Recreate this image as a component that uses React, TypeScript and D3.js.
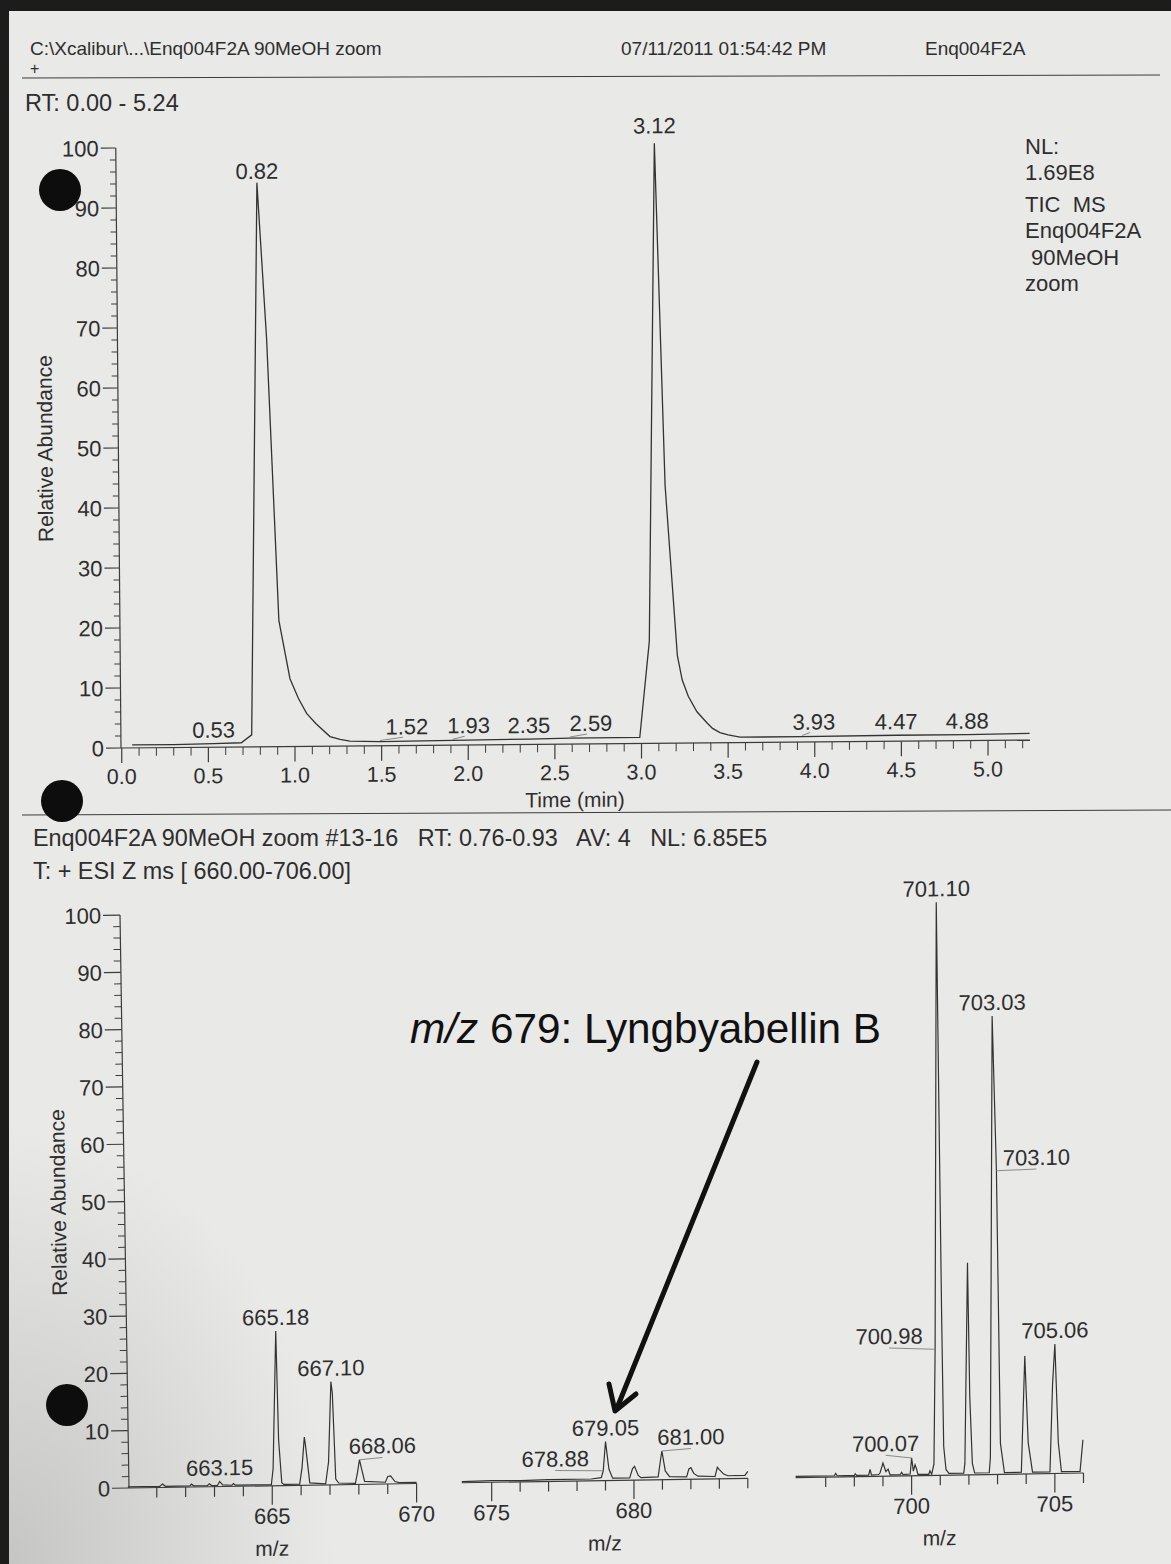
import * as d3 from 'd3';

// ---------- data ----------

// TIC chromatogram, time (min) vs relative abundance
const ticTrace: [number, number][] = [
  [0.06, 0.5], [0.3, 0.5], [0.53, 0.6], [0.69, 0.7], [0.75, 2.0], [0.78, 94],
  [0.836, 68], [0.907, 21], [0.971, 11.3], [1.02, 8], [1.067, 5.5], [1.12, 3.8],
  [1.202, 1.6], [1.26, 1.1], [1.317, 0.8], [1.49, 0.7], [1.91, 0.8], [2.35, 0.9],
  [2.587, 1.0], [2.99, 1.0], [3.045, 17], [3.074, 100], [3.136, 43], [3.207, 14.6],
  [3.235, 10.5], [3.27, 7.8], [3.32, 5.2], [3.376, 3.4], [3.41, 2.4], [3.453, 1.7],
  [3.5, 1.3], [3.569, 0.9], [3.926, 0.9], [4.47, 1.0], [4.88, 1.0], [5.24, 1.1],
];

const ticPeaks = [
  { label: '0.53', t: 0.53, v: 0.6 },
  { label: '0.82', t: 0.78, v: 94 },
  { label: '1.52', t: 1.49, v: 0.7 },
  { label: '1.93', t: 1.91, v: 0.8 },
  { label: '2.35', t: 2.35, v: 0.9 },
  { label: '2.59', t: 2.587, v: 1.0 },
  { label: '3.12', t: 3.074, v: 100 },
  { label: '3.93', t: 3.926, v: 0.9 },
  { label: '4.47', t: 4.47, v: 1.0 },
  { label: '4.88', t: 4.88, v: 1.0 },
];

const timeTicks = [0, 0.5, 1, 1.5, 2, 2.5, 3, 3.5, 4, 4.5, 5];
const abundanceTicks = [0, 10, 20, 30, 40, 50, 60, 70, 80, 90, 100];

// mass spectrum, three zoomed m/z windows
const spectrumA: [number, number][] = [
  [660.0, 0.2], [661.1, 0.2], [661.2, 0.6], [661.3, 0.2], [662.15, 0.2], [662.2, 0.5],
  [662.28, 0.2], [662.75, 0.2], [662.82, 0.5], [662.9, 0.2], [663.1, 0.2], [663.18, 0.9],
  [663.28, 0.3], [663.6, 0.2], [663.66, 0.5], [663.72, 0.2], [664.97, 0.2], [665.03, 3],
  [665.12, 27], [665.22, 8], [665.33, 0.5], [665.4, 0.2], [665.95, 0.2], [666.03, 3],
  [666.11, 8.4], [666.15, 7], [666.3, 0.4], [666.85, 0.2], [666.95, 4], [667.03, 18],
  [667.08, 16], [667.2, 1], [667.3, 0.3], [667.88, 0.2], [667.95, 2], [668.02, 4.3],
  [668.08, 3], [668.2, 0.5], [668.92, 0.3], [669.0, 1.3], [669.1, 1.4], [669.25, 0.4],
  [669.4, 0.2], [670.0, 0.2],
];

const spectrumB: [number, number][] = [
  [673.95, 0.2], [675.0, 0.3], [676.0, 0.2], [677.0, 0.3], [678.5, 0.3], [678.85, 0.5],
  [678.92, 1.7], [679.0, 6.8], [679.12, 2], [679.25, 0.4], [679.85, 0.4], [679.95, 2],
  [680.02, 2.4], [680.15, 0.8], [680.25, 0.4], [680.85, 0.5], [680.92, 3], [680.98, 5],
  [681.1, 1.5], [681.25, 0.5], [681.85, 0.4], [681.93, 1.8], [682.0, 2], [682.1, 1],
  [682.25, 0.5], [682.85, 0.4], [682.93, 2], [683.0, 1.6], [683.15, 0.8], [683.3, 0.5],
  [683.9, 0.5], [684.0, 1.2],
];

const spectrumC: [number, number][] = [
  [695.95, 0.2], [697.3, 0.2], [697.35, 0.6], [697.4, 0.2], [698.0, 0.2], [698.03, 0.5],
  [698.08, 0.2], [698.5, 0.2], [698.55, 1.2], [698.6, 0.2], [698.85, 0.3], [698.9, 0.6],
  [699.0, 2.3], [699.1, 0.8], [699.18, 1.2], [699.25, 0.2], [699.6, 0.2], [699.65, 0.6],
  [699.7, 0.2], [699.95, 0.3], [700.0, 3.1], [700.06, 0.8], [700.12, 1.9], [700.17, 1.2],
  [700.22, 0.2], [700.6, 0.2], [700.64, 0.8], [700.7, 0.2], [700.78, 2], [700.82, 22],
  [700.86, 100], [700.95, 65], [701.05, 27], [701.12, 5], [701.2, 1], [701.3, 0.3],
  [701.82, 0.3], [701.86, 2], [701.95, 37], [702.03, 13.6], [702.12, 2], [702.2, 0.3],
  [702.71, 0.3], [702.75, 3], [702.81, 80], [702.96, 53], [703.1, 5.4], [703.24, 0.3],
  [703.83, 0.3], [703.95, 20.6], [704.07, 5.4], [704.22, 0.3], [704.83, 0.3],
  [704.92, 15.6], [705.0, 22.6], [705.12, 5.4], [705.23, 0.3], [705.88, 0.3], [705.98, 5.8],
];

const msLabels = [
  { label: '663.15', mz: 663.18, v: 0.9 },
  { label: '665.18', mz: 665.12, v: 27 },
  { label: '667.10', mz: 667.03, v: 18 },
  { label: '668.06', mz: 668.02, v: 4.3 },
  { label: '678.88', mz: 678.92, v: 1.7 },
  { label: '679.05', mz: 679.0, v: 6.8 },
  { label: '681.00', mz: 680.98, v: 5.0 },
  { label: '700.07', mz: 700.0, v: 3.1 },
  { label: '700.98', mz: 700.82, v: 22 },
  { label: '701.10', mz: 700.86, v: 100 },
  { label: '703.03', mz: 702.81, v: 80 },
  { label: '703.10', mz: 702.96, v: 53 },
  { label: '705.06', mz: 705.0, v: 22.6 },
];

const panelDomains: [number, number][] = [[660, 670], [673.95, 684], [695.95, 706]];
const panelMinorTicks = [d3.range(661, 671), d3.range(675, 685), d3.range(697, 707)];
const panelMajorTicks = [[665, 670], [675, 680], [700, 705]];
const spectra = [spectrumA, spectrumB, spectrumC];

const headerLeft = 'C:\\Xcalibur\\...\\Enq004F2A 90MeOH zoom';
const headerDate = '07/11/2011 01:54:42 PM';
const headerFile = 'Enq004F2A';
const ticInfo = ['NL:', '1.69E8', 'TIC  MS', 'Enq004F2A', '\u00a090MeOH', 'zoom'];
const msHeader = ['Enq004F2A 90MeOH zoom #13-16   RT: 0.76-0.93   AV: 4   NL: 6.85E5', 'T: + ESI Z ms [ 660.00-706.00]'];

// ---------- layout ----------
const W = 1171;
const H = 1564;
const FONT = '"Liberation Sans", Arial, Helvetica, sans-serif';
const INK = '#2e2e2e';
const LINE = '#3c3c3c';
const LEAD = '#8a8a8a';

const ticLeader: Record<string, [number, number]> = {
  '1.52': [27, -6], '1.93': [16, -6], '2.59': [21, -6], '3.93': [12, -6],
};
const ticLift: Record<string, number> = { '0.82': 4, '3.12': 10 };
const msLeader: Record<string, [number, number]> = {
  '668.06': [23, -5], '678.88': [-48, -4], '681.00': [29, -5],
  '700.07': [-26, -6], '700.98': [-46, -5], '703.10': [40, -4],
};
const panelRanges: [number, number][] = [[127.9, 416.6], [461.8, 747.8], [795.6, 1083.5]];
const infoY = [154, 180, 212, 238, 265, 291];

// the printout is scanned slightly askew: keep that tilt
const topSkew = 'translate(121 748) skewY(-0.5) translate(-121 -748)';
const botSkew = 'translate(129 1488) skewY(-0.9) translate(-129 -1488)';

export default function App() {
  const tx = d3.scaleLinear().domain([0, 5.24]).range([121.75, 1029.6]);
  const ty = d3.scaleLinear().domain([0, 100]).range([748, 148]);
  const by = d3.scaleLinear().domain([0, 100]).range([1488, 915]);
  const px = panelDomains.map((d, i) => d3.scaleLinear().domain(d).range(panelRanges[i]));

  const ticLine = d3.line<[number, number]>().x((d) => tx(d[0])).y((d) => ty(d[1]));
  const minorTime = d3.range(0, 53).map((i) => i / 10).filter((t) => Math.round(t * 10) % 5 !== 0);
  const minorAb = d3.range(0, 101, 2).filter((v) => v % 10 !== 0);

  const panelOf = (mz: number) => panelDomains.findIndex((d) => mz >= d[0] && mz <= d[1]);

  const txt = { fontFamily: FONT, fill: INK } as const;

  return (
    <svg width={W} height={H} style={{ position: 'absolute', left: 0, top: 0 }}>
      <defs>
        <radialGradient id="shade" cx="0" cy="1" r="0.28">
          <stop offset="0" stopColor="#9a9a9a" stopOpacity={0.45} />
          <stop offset="1" stopColor="#9a9a9a" stopOpacity={0} />
        </radialGradient>
      </defs>
      {/* paper */}
      <rect x={0} y={0} width={W} height={H} fill="#1c1c1c" />
      <rect x={9} y={11} width={W - 9} height={H - 11} fill="#e9e9e7" />
      <rect x={9} y={11} width={W - 9} height={H - 11} fill="url(#shade)" />

      {/* page header */}
      <g style={{ fontSize: 19 }}>
        <text x={30} y={55} {...txt}>{headerLeft}</text>
        <text x={621} y={55} {...txt}>{headerDate}</text>
        <text x={925} y={55} {...txt}>{headerFile}</text>
      </g>
      <text x={30} y={74} {...txt} fontSize={16}>+</text>
      <line x1={22} y1={78} x2={1160} y2={75} stroke={LINE} strokeWidth={1} />

      <text x={25} y={111} {...txt} fontSize={23.5}>RT: 0.00 - 5.24</text>
      {ticInfo.map((s, i) => (
        <text key={i} x={1025} y={infoY[i]} {...txt} fontSize={22} style={{ whiteSpace: 'pre' }}>{s}</text>
      ))}

      {/* ===== TIC chromatogram ===== */}
      <g transform="rotate(-0.5 121 748)">
        <line x1={121} x2={121} y1={ty(0)} y2={ty(100)} stroke={LINE} strokeWidth={1.2} />
        {abundanceTicks.map((v) => (
          <g key={v}>
            <line x1={106} x2={121} y1={ty(v)} y2={ty(v)} stroke={LINE} strokeWidth={1.2} />
            <text x={104} y={ty(v) + 8} textAnchor="end" {...txt} fontSize={22}>{v}</text>
          </g>
        ))}
        {minorAb.map((v) => (
          <line key={v} x1={115} x2={121} y1={ty(v)} y2={ty(v)} stroke={LINE} strokeWidth={1} />
        ))}
        <text transform={`translate(55,${ty(50)}) rotate(-90)`} textAnchor="middle" {...txt} fontSize={21}>Relative Abundance</text>
      </g>

      <g transform={topSkew}>
        <line x1={121} x2={1030} y1={ty(0)} y2={ty(0)} stroke={LINE} strokeWidth={1.2} />
        {timeTicks.map((t) => (
          <g key={t}>
            <line x1={tx(t)} x2={tx(t)} y1={ty(0)} y2={ty(0) + 15} stroke={LINE} strokeWidth={1.2} />
            <text x={tx(t)} y={ty(0) + 36} textAnchor="middle" {...txt} fontSize={21.5}>{t.toFixed(1)}</text>
          </g>
        ))}
        {minorTime.map((t) => (
          <line key={t} x1={tx(t)} x2={tx(t)} y1={ty(0)} y2={ty(0) + 8} stroke={LINE} strokeWidth={1} />
        ))}
        <text x={575} y={811} textAnchor="middle" {...txt} fontSize={21}>Time (min)</text>

        <path d={ticLine(ticTrace) ?? ''} fill="none" stroke="#333" strokeWidth={1.3} />
        {ticPeaks.map((p) => {
          const x0 = tx(p.t);
          const y0 = ty(p.v);
          const off = ticLeader[p.label];
          const lx = off ? x0 + off[0] : x0;
          const ly = off ? y0 + off[1] : y0 - (ticLift[p.label] ?? 6);
          return (
            <g key={p.label}>
              {off && <line x1={x0} y1={y0 - 1} x2={lx - 4} y2={ly + 2} stroke={LEAD} strokeWidth={1} />}
              <text x={lx} y={off ? ly - 1 : ly} textAnchor="middle" {...txt} fontSize={22}>{p.label}</text>
            </g>
          );
        })}
      </g>

      {/* separator + spectrum header */}
      <line x1={22} y1={815} x2={W} y2={810} stroke={LINE} strokeWidth={1} />
      <g style={{ fontSize: 23.4 }}>
        <text x={33} y={846} {...txt} style={{ whiteSpace: 'pre' }}>{msHeader[0]}</text>
        <text x={33} y={879} {...txt}>{msHeader[1]}</text>
      </g>

      {/* ===== mass spectrum ===== */}
      <g transform="rotate(-0.9 129 1488)">
        <line x1={129} x2={129} y1={by(0)} y2={by(100)} stroke={LINE} strokeWidth={1.2} />
        {abundanceTicks.map((v) => (
          <g key={v}>
            <line x1={112} x2={129} y1={by(v)} y2={by(v)} stroke={LINE} strokeWidth={1.2} />
            <text x={110} y={by(v) + 8} textAnchor="end" {...txt} fontSize={22}>{v}</text>
          </g>
        ))}
        {minorAb.map((v) => (
          <line key={v} x1={122} x2={129} y1={by(v)} y2={by(v)} stroke={LINE} strokeWidth={1} />
        ))}
        <text transform={`translate(70,${by(50)}) rotate(-90)`} textAnchor="middle" {...txt} fontSize={21}>Relative Abundance</text>
      </g>

      <g transform={botSkew}>
        {spectra.map((data, i) => {
          const x = px[i];
          const line = d3.line<[number, number]>().x((d) => x(d[0])).y((d) => by(d[1]));
          const [r0, r1] = panelRanges[i];
          return (
            <g key={i}>
              <line x1={i === 0 ? 129 : r0} x2={r1} y1={by(0)} y2={by(0)} stroke={LINE} strokeWidth={1.2} />
              {panelMinorTicks[i].map((m) => {
                const major = panelMajorTicks[i].includes(m);
                return <line key={m} x1={x(m)} x2={x(m)} y1={by(0)} y2={by(0) + (major ? 19 : 10)} stroke={LINE} strokeWidth={1.2} />;
              })}
              {panelMajorTicks[i].map((m) => (
                <text key={m} x={x(m)} y={by(0) + 38} textAnchor="middle" {...txt} fontSize={22}>{m}</text>
              ))}
              <text x={(r0 + r1) / 2} y={by(0) + 70} textAnchor="middle" {...txt} fontSize={21}>m/z</text>
              <path d={line(data) ?? ''} fill="none" stroke="#333" strokeWidth={1.2} />
            </g>
          );
        })}

        {msLabels.map((p) => {
          const i = panelOf(p.mz);
          const x0 = px[i](p.mz);
          const y0 = by(p.v);
          const off = msLeader[p.label];
          const lx = off ? x0 + off[0] : x0;
          const ly = off ? y0 + off[1] : y0 - 6;
          return (
            <g key={p.label}>
              {off && <line x1={x0} y1={y0} x2={lx} y2={ly + 3} stroke={LEAD} strokeWidth={1} />}
              <text x={lx} y={off ? ly - 1 : ly} textAnchor="middle" {...txt} fontSize={22}>{p.label}</text>
            </g>
          );
        })}
      </g>

      {/* added annotation */}
      <text x={410} y={1043} fontFamily={FONT} fontSize={42.3} fill="#111">
        <tspan fontStyle="italic">m/z</tspan> 679: Lyngbyabellin B
      </text>
      <line x1={757} y1={1062} x2={617} y2={1408} stroke="#111" strokeWidth={5} strokeLinecap="round" />
      <path d="M 609 1384 L 615 1411 L 636 1394" fill="none" stroke="#111" strokeWidth={5} strokeLinecap="round" strokeLinejoin="round" />

      {/* punch holes */}
      {[[60, 190], [62, 801], [67, 1405]].map(([cx, cy], i) => (
        <circle key={i} cx={cx} cy={cy} r={21} fill="#0d0d0d" />
      ))}
    </svg>
  );
}
